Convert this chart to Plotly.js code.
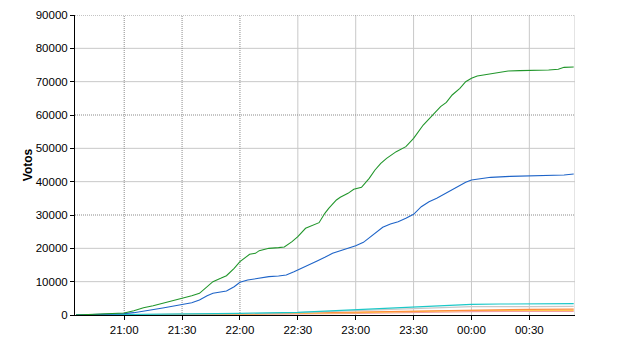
<!DOCTYPE html>
<html>
<head>
<meta charset="utf-8">
<script src="https://cdn.plot.ly/plotly-3.0.1.min.js"></script>
<style>html,body{margin:0;padding:0;background:#fff;}#chart{width:640px;height:350px;}</style>
</head>
<body>
<div id="chart"></div>
<script>
// Data (time HH:MM, votes)
var greenTimes = ["20:35","20:45","20:55","21:00","21:05","21:10","21:15","21:20","21:25","21:30","21:35","21:39","21:43","21:46","21:50","21:53","21:57","22:00","22:05","22:08","22:10","22:15","22:20","22:23","22:27","22:30","22:34","22:38","22:41","22:44","22:46","22:50","22:52","22:56","22:59","23:03","23:07","23:10","23:13","23:16","23:21","23:26","23:30","23:35","23:40","23:44","23:47","23:50","23:54","23:57","00:00","00:03","00:07","00:11","00:15","00:19","00:25","00:30","00:40","00:45","00:48","00:53"];
var greenVotes = [0,200,400,600,1300,2200,2800,3500,4200,4900,5800,6500,8500,10000,11000,11800,14000,16000,18200,18500,19300,20000,20200,20400,22000,23500,26000,27000,27700,30500,32000,34500,35300,36500,37700,38300,41000,43500,45500,47000,49000,50500,53000,57000,60000,62500,63800,66000,68000,70000,71000,71700,72100,72500,72900,73200,73300,73300,73500,73700,74300,74400];

var blueTimes = ["20:35","20:50","21:00","21:05","21:10","21:15","21:20","21:25","21:30","21:35","21:39","21:43","21:46","21:50","21:53","21:57","22:00","22:04","22:08","22:15","22:20","22:24","22:28","22:32","22:36","22:40","22:44","22:48","22:52","22:56","23:00","23:04","23:08","23:14","23:18","23:22","23:26","23:30","23:34","23:38","23:42","23:46","23:50","23:54","23:57","00:00","00:05","00:10","00:20","00:30","00:40","00:48","00:53"];
var blueVotes = [0,200,400,700,1100,1600,2100,2600,3100,3700,4500,5800,6500,6800,7200,8500,9800,10500,10900,11500,11700,12000,13000,14000,15000,16200,17300,18500,19300,20000,20800,21800,23500,26300,27300,28000,29000,30200,32500,34000,35000,36300,37500,38800,39800,40500,41000,41300,41600,41700,41800,42000,42300];

var cyanTimes = ["20:35","21:00","21:30","22:00","22:30","23:00","23:30","23:45","00:00","00:15","00:30","00:53"];
var cyanVotes = [0,100,300,500,800,1600,2400,2900,3200,3300,3300,3400];

var grayTimes = ["20:35","21:00","22:00","22:30","23:00","23:30","23:45","00:00","00:30","00:53"];
var grayVotes = [0,80,400,700,1300,2000,2400,2500,2500,2600];

var orangeTimes = ["20:35","21:00","22:00","22:30","23:00","23:30","00:00","00:30","00:53"];
var orangeVotes = [0,50,300,600,900,1300,1600,1700,1750];

var yellowTimes = ["20:35","21:00","22:00","23:00","23:30","00:00","00:53"];
var yellowVotes = [0,40,250,700,1100,1350,1400];

var salmonTimes = ["20:35","22:00","23:00","00:00","00:53"];
var salmonVotes = [0,150,500,1000,1100];

var yTicks = [0,10000,20000,30000,40000,50000,60000,70000,80000,90000];
var yGridSolid = [10000,20000,40000,50000,70000,80000];
var yGridDotted = [30000,60000,90000];
var xTickTimes = ["21:00","21:30","22:00","22:30","23:00","23:30","00:00","00:30"];
var xGridDotted = ["21:00","21:30","22:00"];
var xGridSolid = ["22:30","23:00","23:30","00:00","00:30"];
var xRangeTimes = ["20:34:30","00:53:40"];

function toDate(t){
  var h = parseInt(t.split(":")[0],10);
  return (h < 12 ? "2000-01-02 " : "2000-01-01 ") + t;
}
function dates(arr){ return arr.map(toDate); }

var xr = dates(xRangeTimes);
var font = {family: "Liberation Sans, Arial, sans-serif", size: 11.5, color: "#000"};

function line(t, v, color){
  return {x: dates(t), y: v, type: "scatter", mode: "lines",
          line: {color: color, width: 1.1}, hoverinfo: "skip", showlegend: false};
}

var traces = [
  line(salmonTimes, salmonVotes, "#f4a0a0"),
  line(yellowTimes, yellowVotes, "#ffc850"),
  line(orangeTimes, orangeVotes, "#ff8c3c"),
  line(grayTimes, grayVotes, "#c8c8c8"),
  line(cyanTimes, cyanVotes, "#1cc8c8"),
  line(blueTimes, blueVotes, "#1e64c8"),
  line(greenTimes, greenVotes, "#21962b")
];

// Grid lines (two styles, as in the reference)
var shapes = [];
function vgrid(x, color, dash){
  shapes.push({type: "line", layer: "below", xref: "x", yref: "paper", x0: x, x1: x, y0: 0, y1: 1,
               line: {color: color, width: 1, dash: dash}});
}
function hgrid(y, color, dash){
  shapes.push({type: "line", layer: "below", xref: "paper", yref: "y", x0: 0, x1: 1, y0: y, y1: y,
               line: {color: color, width: 1, dash: dash}});
}
yGridSolid.forEach(function(v){ hgrid(v, "#c8c8c8", "solid"); });
dates(xGridSolid).concat([xr[1]]).forEach(function(v){ vgrid(v, "#c8c8c8", "solid"); });
yGridDotted.forEach(function(v){ hgrid(v, "#8a8a8a", "1px,1px"); });
dates(xGridDotted).forEach(function(v){ vgrid(v, "#8a8a8a", "1px,1px"); });

var layout = {
  width: 640, height: 350,
  margin: {l: 75, r: 65, t: 15, b: 35},
  paper_bgcolor: "#fff", plot_bgcolor: "#fff",
  font: font,
  showlegend: false,
  shapes: shapes,
  xaxis: {
    type: "date", range: xr,
    tickvals: dates(xTickTimes), ticktext: xTickTimes,
    showgrid: false, zeroline: false,
    showline: true, linecolor: "#000", linewidth: 1,
    ticks: "outside", ticklen: 4, tickcolor: "#000", tickfont: font
  },
  yaxis: {
    range: [0, 90000], tickvals: yTicks, ticktext: yTicks.map(String),
    showgrid: false, zeroline: false,
    showline: true, linecolor: "#000", linewidth: 1,
    ticks: "outside", ticklen: 4, tickcolor: "#000", tickfont: font,
    title: {text: "Votos", font: {family: "Liberation Sans, Arial, sans-serif", size: 12, color: "#000", weight: "bold"}, standoff: 0}
  }
};

Plotly.newPlot("chart", traces, layout, {staticPlot: true, displayModeBar: false});
</script>
</body>
</html>
